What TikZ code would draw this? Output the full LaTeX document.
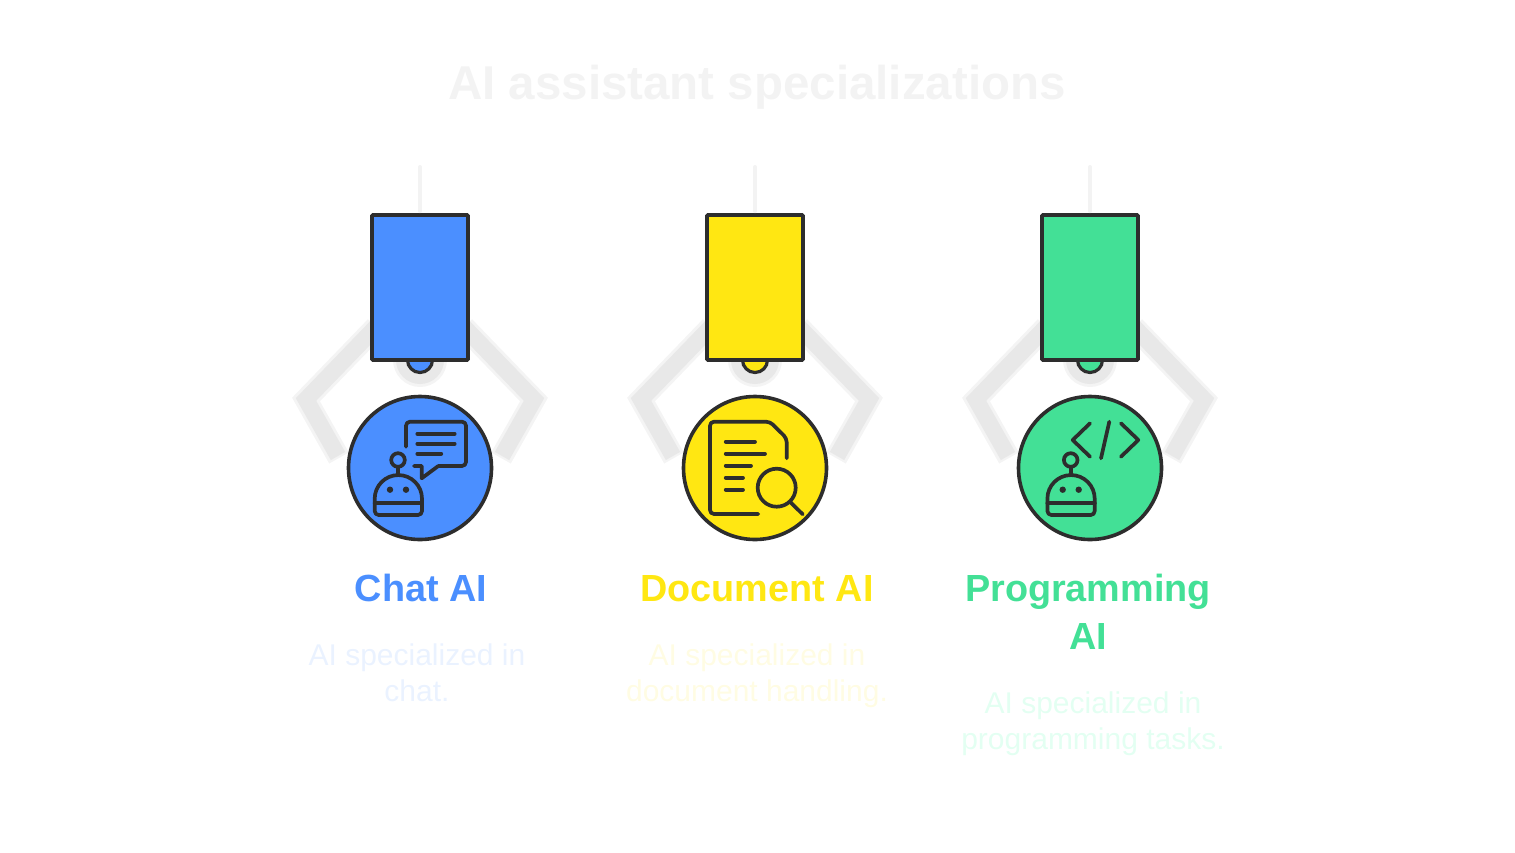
\documentclass[tikz,border=0pt]{standalone}
\usepackage{fontspec}
\usetikzlibrary{positioning}
\setmainfont{Liberation Sans}
\definecolor{inkdark}{HTML}{2D2D2D}
\definecolor{clawedge}{HTML}{F4F4F4}
\definecolor{clawgray}{HTML}{E8E8E8}
\definecolor{titlegray}{HTML}{F3F3F3}
\definecolor{chatblue}{HTML}{4B8FFF}
\definecolor{docyellow}{HTML}{FFE712}
\definecolor{codegreen}{HTML}{43E096}
\definecolor{chatpale}{HTML}{EAF2FF}
\definecolor{docpale}{HTML}{FFFCE3}
\definecolor{codepale}{HTML}{E3FFF2}
\tikzset{
    bodybox/.style={draw=inkdark, line width=3.7pt, rounded corners=1pt, minimum width=96pt, minimum height=145pt, inner sep=0pt},
    bumpdot/.style={circle, draw=inkdark, line width=3.2pt, minimum size=25pt, inner sep=0pt},
    iconround/.style={circle, draw=inkdark, line width=3.6pt, minimum size=143pt, inner sep=0pt},
    iconline/.style={draw=inkdark, line width=3.7pt, line cap=round, line join=round},
    headtext/.style={font=\bfseries\fontsize{37.8}{48}\selectfont, align=center, inner sep=0pt},
    desctext/.style={font=\fontsize{30}{36}\selectfont, align=center, inner sep=0pt}
}
% Line heights of the two text styles
\newcommand{\headrule}{\rule[-14.4pt]{0pt}{48pt}}
\newcommand{\descrule}{\rule[-10.8pt]{0pt}{36pt}}
% Small robot, used by two of the icons
\newcommand{\roboticon}[1]{
    \begin{scope}[xshift=#1pt]
        \draw[iconline] (-22,-8) circle (6.8);
        \draw[iconline] (-22,-1.2) -- (-22,7);
        \draw[iconline] (-45.3,35.3) -- (-45.3,30.7) arc[start angle=180, end angle=360, radius=23.65] -- (2,35.3);
        \draw[iconline, rounded corners=4pt] (-45.3,35.3) -- (-45.3,47) -- (2,47) -- (2,35.3);
        \draw[iconline] (-45.3,35.3) -- (2,35.3);
        \fill[inkdark] (-30,21.7) circle (3.2) (-14,21.7) circle (3.2);
    \end{scope}
}
\newcommand{\chaticon}{
    \roboticon{0}
    \draw[iconline, rounded corners=4pt] (-14,-21.3) -- (-14,-46.3) -- (46,-46.3) -- (46,-2) -- (18.3,-2);
    \draw[iconline] (18.3,-2) -- (1.7,10.3) -- (1.7,-2) -- (-6,-2);
    \draw[iconline] (-2.7,-34.3) -- (34.7,-34.3);
    \draw[iconline] (-2.7,-24.3) -- (34.7,-24.3);
    \draw[iconline] (-2.7,-14.3) -- (21.3,-14.3);
}
\newcommand{\docicon}{
    \draw[iconline, rounded corners=4pt] (3.3,46) -- (-45,46) -- (-45,-46.3) -- (15,-46.3) -- (31.7,-29.7) -- (31.7,-9.7);
    \draw[iconline] (-29.3,-26.3) -- (0,-26.3);
    \draw[iconline] (-29.3,-14.3) -- (10,-14.3);
    \draw[iconline] (-29.3,-2.3) -- (-4,-2.3);
    \draw[iconline] (-29.3,9.7) -- (-12,9.7);
    \draw[iconline] (-29.3,21.7) -- (-12,21.7);
    \draw[iconline] (21.7,19.7) circle (19);
    \draw[iconline] (35,33.7) -- (47.7,46.3);
}
\newcommand{\codeicon}{
    \roboticon{2.7}
    \draw[iconline] (0,-44.7) -- (-17.3,-28) -- (0,-11.3);
    \draw[iconline] (19.3,-46.3) -- (11,-9.7);
    \draw[iconline] (31,-44.7) -- (48.3,-28) -- (31,-11.3);
}

\begin{document}
\begin{tikzpicture}[x=1pt, y=-1pt]
    \useasboundingbox (0,0) rectangle (1515,852);

    % Title
    \node (title) [font=\bfseries\fontsize{47.5}{56}\selectfont, text=titlegray, inner sep=0pt] at (757,87) {AI assistant specializations};

    % Columns
    \foreach \name/\cx/\col/\pale/\head/\desc/\headx/\descx/\icon in {
        chat/420/chatblue/chatpale/{\headrule Chat AI}/{\descrule AI specialized in\\chat.}/1/-3/\chaticon,
        doc/755/docyellow/docpale/{\headrule Document AI}/{\descrule AI specialized in\\document handling.}/2/2/\docicon,
        code/1090/codegreen/codepale/{\headrule Programming\\\headrule AI}/{\descrule AI specialized in\\programming tasks.}/-2/3/\codeicon%
    }{
        \begin{scope}[shift={(\cx,0)}]
            % Claw
            \foreach \side in {-1,1}{
                \draw[clawedge, line width=22.5pt, miter limit=4] (\side*44,327) -- (\side*114,399.5) -- (\side*81,458);
                \draw[clawgray, line width=16.5pt, miter limit=4] (\side*44,327) -- (\side*114,399.5) -- (\side*82,456);
            }
            \fill[clawedge] (0,360) circle (27);
            \fill[clawgray] (0,360) circle (24);

            % Nodes
            \coordinate (\name top) at (0,167);
            \node (\name bump) [bumpdot, fill=\col] at (0,360) {};
            \node (\name body) [bodybox, fill=\col] at (0,287.5) {};
            \node (\name round) [iconround, fill=\col] at (0,468) {};
            \node (\name head) [headtext, text=\col, anchor=north] at (\headx,567.4) {\head};
            \node (\name desc) [desctext, text=\pale, below=24.4pt of \name head, xshift=\descx pt-\headx pt] {\desc};

            % Connector
            \draw[titlegray, line width=4pt, line cap=round, shorten >=2pt] (\name top) -- (\name body.north);

            % Icon
            \begin{scope}[shift={(0,468)}]
                \icon
            \end{scope}
        \end{scope}
    }
\end{tikzpicture}
\end{document}
